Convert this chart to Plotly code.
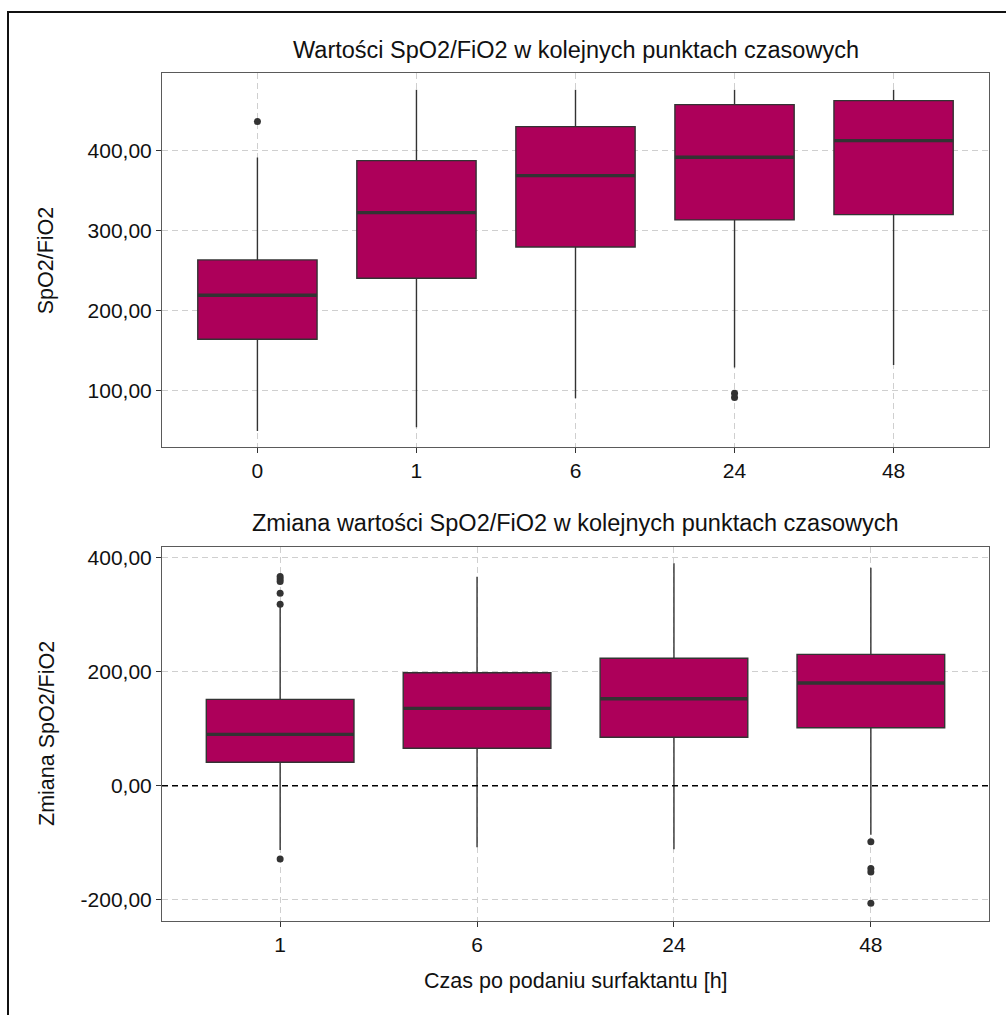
import plotly.graph_objects as go

# ---------------- data ----------------
top_categories = ["0", "1", "6", "24", "48"]
top_q1 = [164.2, 240.5, 279.6, 313.4, 320.0]
top_median = [219.2, 322.5, 368.8, 391.7, 412.5]
top_q3 = [263.4, 387.5, 430.0, 457.5, 462.5]
top_lower = [49.6, 54.2, 90.5, 128.8, 132.1]
top_upper = [391.3, 476.0, 476.0, 476.0, 476.0]
top_outlier_cat = ["0", "24", "24"]
top_outlier_val = [436.3, 96.7, 91.6]

bot_categories = ["1", "6", "24", "48"]
bot_q1 = [41.1, 65.7, 85.0, 101.8]
bot_median = [90.2, 135.9, 152.8, 180.3]
bot_q3 = [151.7, 198.4, 223.7, 230.7]
bot_lower = [-112.7, -108.2, -111.7, -86.0]
bot_upper = [313.8, 367.0, 390.5, 382.8]
bot_outlier_cat = ["1", "1", "1", "1", "1", "1", "48", "48", "48", "48"]
bot_outlier_val = [367.3, 363.0, 358.6, 337.8, 318.5, -128.7, -98.3, -145.4, -151.5, -206.5]

top_ticks = [100, 200, 300, 400]
bot_ticks = [-200, 0, 200, 400]

title_top = "Wartości SpO2/FiO2 w kolejnych punktach czasowych"
title_bot = "Zmiana wartości SpO2/FiO2 w kolejnych punktach czasowych"
ytitle_top = "SpO2/FiO2"
ytitle_bot = "Zmiana SpO2/FiO2"
xtitle = "Czas po podaniu surfaktantu [h]"

# ---------------- style ----------------
FILL = "#AD005A"
EDGE = "#333333"
FONT = "Liberation Sans, Arial, sans-serif"
W, H = 1006, 1015
BOX_W = 0.75


def fmt(v):
    return f"{v:.2f}".replace(".", ",")


def px_x(p):
    return p / W


def px_y(p):
    return 1 - p / H


fig = go.Figure()


def add_panel(cats, q1, med, q3, lo, hi, out_cat, out_val, xa, ya):
    pos = list(range(len(cats)))
    fig.add_trace(go.Box(
        x=pos, q1=q1, median=med, q3=q3, lowerfence=lo, upperfence=hi,
        width=BOX_W, whiskerwidth=0, fillcolor=FILL,
        line=dict(color=EDGE, width=1.4), boxpoints=False,
        xaxis=xa, yaxis=ya, showlegend=False, hoverinfo="skip",
    ))
    mx, my = [], []
    for p, m in zip(pos, med):
        mx += [p - BOX_W / 2, p + BOX_W / 2, None]
        my += [m, m, None]
    fig.add_trace(go.Scatter(
        x=mx, y=my, mode="lines", line=dict(color=EDGE, width=3.4),
        xaxis=xa, yaxis=ya, showlegend=False, hoverinfo="skip",
    ))
    ox = [cats.index(c) for c in out_cat]
    fig.add_trace(go.Scatter(
        x=ox, y=out_val, mode="markers",
        marker=dict(color=EDGE, size=7, line=dict(width=0)),
        xaxis=xa, yaxis=ya, showlegend=False, hoverinfo="skip",
    ))


add_panel(top_categories, top_q1, top_median, top_q3, top_lower, top_upper,
          top_outlier_cat, top_outlier_val, "x", "y")
add_panel(bot_categories, bot_q1, bot_median, bot_q3, bot_lower, bot_upper,
          bot_outlier_cat, bot_outlier_val, "x2", "y2")

xdom = [px_x(162), px_x(989)]
ax_common = dict(
    showline=True, linecolor="#5a5a5a", linewidth=1, mirror=True,
    showgrid=True, gridcolor="#cfcfcf", gridwidth=1, griddash="6px,4px",
    zeroline=False, ticks="outside", ticklen=5, tickwidth=1, tickcolor="#333333",
    tickfont=dict(family=FONT, size=21, color="#111111"),
)

fig.update_layout(
    width=W, height=H, autosize=False,
    margin=dict(l=0, r=0, t=0, b=0),
    paper_bgcolor="white", plot_bgcolor="white",
    boxmode="overlay",
    xaxis=dict(domain=xdom, range=[-0.6, len(top_categories) - 0.4],
               tickvals=list(range(len(top_categories))), ticktext=top_categories,
               anchor="y", **ax_common),
    yaxis=dict(domain=[px_y(447), px_y(73)], range=[29.6, 497],
               tickvals=top_ticks, ticktext=[fmt(v) for v in top_ticks],
               anchor="x", **ax_common),
    xaxis2=dict(domain=xdom, range=[-0.6, len(bot_categories) - 0.4],
                tickvals=list(range(len(bot_categories))), ticktext=bot_categories,
                anchor="y2", **ax_common),
    yaxis2=dict(domain=[px_y(920.7), px_y(546.7)], range=[-237, 419.7],
                tickvals=bot_ticks, ticktext=[fmt(v) for v in bot_ticks],
                anchor="x2", **ax_common),
)

# zero reference line in the lower panel
fig.add_shape(type="line", xref="x2 domain", yref="y2", x0=0, x1=1, y0=0, y1=0,
              line=dict(color="black", width=1.6, dash="6px,4px"), layer="above")

# outer frame (top and left edges)
fig.add_shape(type="line", xref="paper", yref="paper",
              x0=px_x(7), x1=1, y0=px_y(12), y1=px_y(12),
              line=dict(color="#111111", width=2))
fig.add_shape(type="line", xref="paper", yref="paper",
              x0=px_x(8), x1=px_x(8), y0=px_y(12), y1=0,
              line=dict(color="#111111", width=2))

ann_font = dict(family=FONT, color="#111111")
cx = (xdom[0] + xdom[1]) / 2
fig.add_annotation(text=title_top, xref="paper", yref="paper", x=cx, y=px_y(50.5),
                   xanchor="center", yanchor="middle", showarrow=False,
                   font=dict(size=23.5, **ann_font))
fig.add_annotation(text=title_bot, xref="paper", yref="paper", x=cx, y=px_y(523.3),
                   xanchor="center", yanchor="middle", showarrow=False,
                   font=dict(size=23.5, **ann_font))
fig.add_annotation(text=xtitle, xref="paper", yref="paper", x=cx, y=px_y(981),
                   xanchor="center", yanchor="middle", showarrow=False,
                   font=dict(size=21.5, **ann_font))
fig.add_annotation(text=ytitle_top, xref="paper", yref="paper", x=px_x(46.3), y=px_y(260),
                   xanchor="center", yanchor="middle", showarrow=False, textangle=-90,
                   font=dict(size=21.5, **ann_font))
fig.add_annotation(text=ytitle_bot, xref="paper", yref="paper", x=px_x(46.3), y=px_y(733.7),
                   xanchor="center", yanchor="middle", showarrow=False, textangle=-90,
                   font=dict(size=21.5, **ann_font))

fig.write_html("out.html")
